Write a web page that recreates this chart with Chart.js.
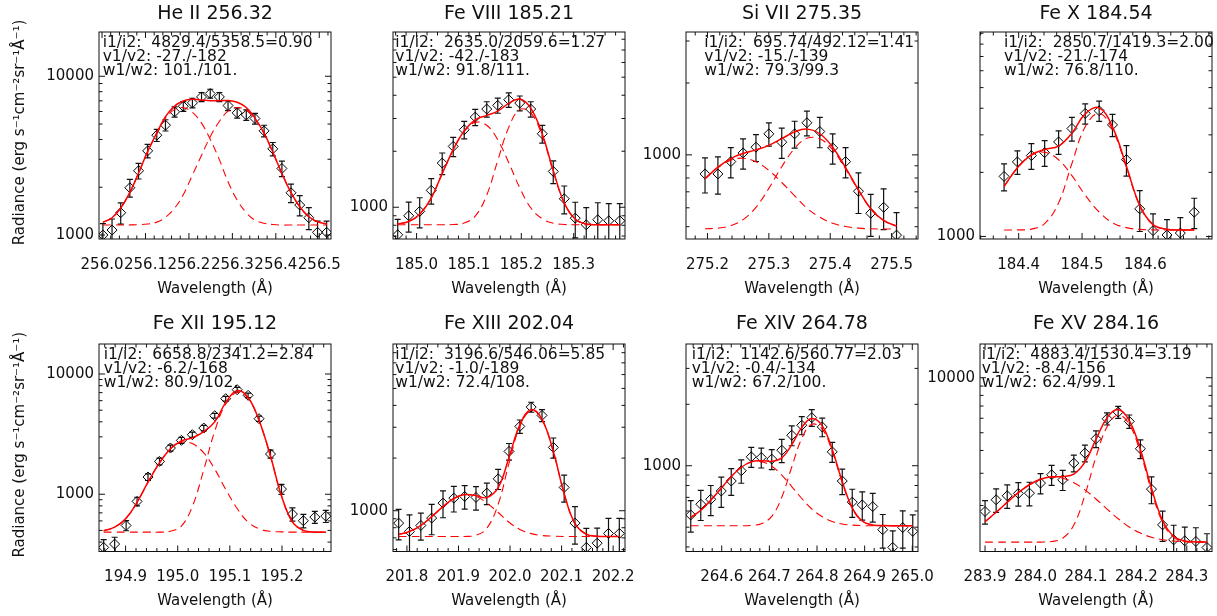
<!DOCTYPE html>
<html>
<head>
<meta charset="utf-8">
<script src="https://cdn.jsdelivr.net/npm/chart.js@4.4.0/dist/chart.umd.min.js"></script>
<style>
  html, body { margin: 0; padding: 0; background: #fff; overflow: hidden; }
  body { position: relative; width: 1217px; height: 616px; }
  canvas { position: absolute; }
</style>
</head>
<body>
<script>
// ---- He II 256.32 ----
const heII_wave = [256.002, 256.023, 256.043, 256.064, 256.084, 256.105, 256.126, 256.146, 256.167, 256.187, 256.208, 256.229, 256.249, 256.270, 256.290, 256.311, 256.332, 256.352, 256.373, 256.393, 256.414, 256.435, 256.455, 256.476, 256.496, 256.517];
const heII_flux = [1000, 1075, 1382, 1985, 2540, 3390, 4255, 4920, 5970, 6470, 6800, 7410, 7780, 7410, 6540, 5880, 5710, 5420, 4530, 3490, 2625, 1845, 1545, 1285, 1040, 1040];
const heII_err = [180, 187, 212, 254, 287, 332, 372, 400, 440, 458, 470, 490, 503, 490, 461, 437, 430, 420, 383, 337, 292, 245, 224, 204, 184, 184];
const heII_fit = [1202, 1284, 1479, 1855, 2456, 3363, 4394, 5572, 6485, 6989, 7154, 7089, 7016, 7021, 7037, 6860, 6355, 5454, 4383, 3333, 2440, 1848, 1508, 1303, 1212, 1174];
const heII_blue = [1202, 1284, 1479, 1853, 2451, 3345, 4344, 5436, 6164, 6349, 5924, 5066, 4016, 2986, 2165, 1660, 1384, 1242, 1185, 1165, 1156, 1156, 1156, 1156, 1156, 1156];
const heII_main = [1156, 1156, 1156, 1158, 1161, 1174, 1206, 1292, 1477, 1796, 2386, 3179, 4156, 5191, 6028, 6356, 6127, 5368, 4354, 3324, 2440, 1848, 1508, 1303, 1212, 1174];
const heII_xticks = [256.0, 256.1, 256.2, 256.3, 256.4, 256.5];
const heII_yticks = [1000, 10000];

// ---- Fe VIII 185.21 ----
const feVIII_wave = [184.964, 184.985, 185.006, 185.028, 185.049, 185.070, 185.091, 185.112, 185.134, 185.155, 185.176, 185.197, 185.218, 185.240, 185.261, 185.282, 185.303, 185.324, 185.346, 185.367, 185.388];
const feVIII_flux = [711, 900, 950, 1232, 1728, 2124, 2610, 3053, 3372, 3528, 3784, 3631, 3372, 2484, 1558, 1111, 874, 805, 857, 846, 846];
const feVIII_err = [150, 165, 175, 193, 229, 253, 281, 304, 319, 327, 338, 331, 319, 274, 217, 190, 190, 190, 200, 200, 200];
const feVIII_fit = [812, 838, 918, 1120, 1520, 2042, 2572, 2950, 3116, 3286, 3618, 3815, 3407, 2476, 1573, 1055, 862, 814, 805, 805, 805];
const feVIII_blue = [812, 838, 918, 1120, 1520, 2040, 2555, 2859, 2759, 2308, 1736, 1272, 994, 867, 821, 808, 805, 805, 805, 805, 805];
const feVIII_main = [805, 805, 805, 805, 805, 807, 822, 896, 1162, 1783, 2687, 3348, 3218, 2414, 1557, 1052, 862, 814, 805, 805, 805];
const feVIII_xticks = [185.0, 185.1, 185.2, 185.3];
const feVIII_yticks = [1000];

// ---- Si VII 275.35 ----
const siVII_wave = [275.196, 275.217, 275.238, 275.258, 275.279, 275.300, 275.321, 275.342, 275.362, 275.383, 275.404, 275.425, 275.446, 275.466, 275.487, 275.508];
const siVII_flux = [832, 832, 937, 1019, 1077, 1225, 1130, 1225, 1363, 1253, 1070, 937, 704, 569, 603, 461];
const siVII_err = [140, 148, 136, 148, 139, 138, 164, 158, 163, 182, 155, 136, 136, 114, 117, 112];
const siVII_fit = [794, 888, 965, 1014, 1049, 1096, 1169, 1248, 1282, 1226, 1077, 885, 713, 595, 531, 503];
const siVII_blue = [793, 884, 949, 968, 935, 861, 766, 673, 598, 548, 517, 501, 493, 490, 489, 489];
const siVII_main = [490, 493, 505, 535, 603, 724, 892, 1064, 1173, 1167, 1049, 873, 709, 594, 531, 503];
const siVII_xticks = [275.2, 275.3, 275.4, 275.5];
const siVII_yticks = [1000];

// ---- Fe X 184.54 ----
const feX_wave = [184.377, 184.398, 184.420, 184.441, 184.463, 184.484, 184.505, 184.527, 184.548, 184.570, 184.591, 184.612, 184.634, 184.655, 184.677];
const feX_flux = [1914, 2239, 2397, 2476, 2780, 3213, 3783, 3893, 3342, 2295, 1348, 1065, 1016, 1038, 1300];
const feX_err = [277, 284, 330, 341, 352, 407, 411, 423, 399, 374, 293, 212, 184, 188, 212];
const feX_fit = [1718, 2102, 2418, 2561, 2656, 3057, 3764, 4015, 3269, 2136, 1400, 1137, 1081, 1073, 1073];
const feX_blue = [1718, 2101, 2408, 2486, 2291, 1929, 1563, 1302, 1160, 1100, 1080, 1074, 1073, 1073, 1073];
const feX_main = [1073, 1074, 1083, 1148, 1438, 2201, 3274, 3786, 3182, 2109, 1393, 1136, 1081, 1073, 1073];
const feX_xticks = [184.4, 184.5, 184.6];
const feX_yticks = [1000];

// ---- Fe XII 195.12 ----
const feXII_wave = [194.858, 194.879, 194.901, 194.922, 194.943, 194.965, 194.986, 195.007, 195.028, 195.050, 195.071, 195.092, 195.114, 195.135, 195.156, 195.178, 195.199, 195.220, 195.241, 195.263, 195.284];
const feXII_flux = [361, 385, 550, 872, 1390, 1876, 2423, 2805, 3127, 3552, 4498, 6233, 7406, 6645, 4249, 2160, 1104, 684, 602, 646, 658];
const feXII_err = [58, 54, 53, 72, 89, 120, 139, 161, 160, 181, 201, 279, 331, 297, 217, 166, 106, 87, 77, 74, 76];
const feXII_fit = [497, 532, 632, 857, 1261, 1821, 2392, 2770, 2944, 3321, 3999, 5775, 7281, 6372, 4119, 2069, 970, 588, 500, 484, 484];
const feXII_blue = [497, 532, 632, 857, 1261, 1821, 2384, 2711, 2638, 2204, 1617, 1100, 761, 586, 515, 492, 486, 484, 484, 484, 484];
const feXII_main = [484, 484, 484, 484, 484, 484, 492, 543, 790, 1601, 3350, 5643, 7004, 6270, 4088, 2061, 968, 588, 500, 484, 484];
const feXII_xticks = [194.9, 195.0, 195.1, 195.2];
const feXII_yticks = [1000, 10000];

// ---- Fe XIII 202.04 ----
const feXIII_wave = [201.784, 201.805, 201.827, 201.848, 201.870, 201.891, 201.912, 201.934, 201.955, 201.977, 201.998, 202.019, 202.041, 202.062, 202.084, 202.105, 202.126, 202.148, 202.169, 202.191, 202.212];
const feXIII_flux = [850, 762, 824, 908, 1106, 1181, 1207, 1192, 1262, 1523, 2183, 3034, 3912, 3506, 2301, 1359, 850, 617, 653, 742, 742];
const feXIII_err = [168, 184, 145, 179, 194, 197, 185, 183, 177, 200, 239, 266, 257, 277, 303, 238, 205, 176, 143, 163, 163];
const feXIII_fit = [731, 761, 823, 925, 1055, 1175, 1237, 1221, 1189, 1354, 2014, 3096, 3777, 3331, 2182, 1252, 844, 734, 715, 713, 713];
const feXIII_blue = [731, 761, 823, 925, 1055, 1175, 1236, 1210, 1108, 977, 860, 782, 740, 722, 716, 713, 713, 713, 713, 713, 713];
const feXIII_main = [713, 713, 713, 713, 713, 713, 713, 724, 794, 1090, 1867, 3027, 3750, 3322, 2179, 1252, 844, 734, 715, 713, 713];
const feXIII_xticks = [201.8, 201.9, 202.0, 202.1, 202.2];
const feXIII_yticks = [1000];

// ---- Fe XIV 264.78 ----
const feXIV_wave = [264.535, 264.556, 264.577, 264.599, 264.620, 264.641, 264.662, 264.683, 264.705, 264.726, 264.747, 264.768, 264.789, 264.811, 264.832, 264.853, 264.874, 264.895, 264.917, 264.938, 264.959, 264.980, 265.001];
const feXIV_flux = [574, 648, 685, 752, 842, 945, 1106, 1098, 1078, 1192, 1411, 1579, 1721, 1549, 1170, 842, 663, 643, 631, 486, 398, 498, 477];
const feXIV_err = [101, 109, 115, 127, 126, 124, 124, 123, 121, 156, 158, 160, 161, 162, 131, 120, 104, 101, 102, 91, 82, 103, 98];
const feXIV_fit = [557, 605, 678, 776, 885, 983, 1045, 1059, 1051, 1093, 1269, 1542, 1702, 1567, 1200, 837, 622, 536, 513, 509, 508, 508, 508];
const feXIV_blue = [557, 605, 678, 776, 885, 983, 1043, 1047, 994, 900, 791, 691, 614, 563, 533, 518, 512, 509, 508, 508, 508, 508, 508];
const feXIV_main = [508, 508, 508, 508, 508, 508, 510, 520, 565, 701, 986, 1359, 1596, 1512, 1175, 827, 618, 535, 513, 509, 508, 508, 508];
const feXIV_xticks = [264.6, 264.7, 264.8, 264.9, 265.0];
const feXIV_yticks = [1000];

// ---- Fe XV 284.16 ----
const feXV_wave = [283.900, 283.922, 283.944, 283.966, 283.988, 284.010, 284.032, 284.054, 284.076, 284.098, 284.120, 284.142, 284.164, 284.186, 284.208, 284.230, 284.252, 284.274, 284.296, 284.318, 284.340];
const feXV_flux = [1854, 2149, 2259, 2326, 2336, 2651, 2944, 2763, 3410, 3870, 4636, 5964, 6486, 5768, 4087, 2457, 1567, 1297, 1281, 1271, 1178];
const feXV_err = [273, 316, 332, 342, 344, 334, 371, 348, 358, 407, 487, 451, 491, 485, 481, 413, 296, 262, 242, 240, 223];
const feXV_fit = [1632, 1835, 2082, 2350, 2596, 2780, 2868, 2882, 2969, 3453, 4597, 6044, 6690, 5826, 4048, 2486, 1656, 1357, 1279, 1264, 1261];
const feXV_blue = [1632, 1835, 2082, 2350, 2596, 2779, 2858, 2818, 2666, 2435, 2169, 1912, 1693, 1526, 1412, 1340, 1299, 1278, 1267, 1263, 1261];
const feXV_main = [1260, 1260, 1260, 1260, 1260, 1261, 1270, 1324, 1563, 2278, 3688, 5392, 6257, 5560, 3896, 2406, 1617, 1339, 1272, 1261, 1260];
const feXV_xticks = [283.9, 284.0, 284.1, 284.2, 284.3];
const feXV_yticks = [10000];

const panels = [
  { title: 'He II 256.32', left: 99, top: 32, bottom: 239, xr: [255.993, 256.527], yr: [944, 19000],
    wave: heII_wave, flux: heII_flux, err: heII_err, fit: heII_fit, blue: heII_blue, main: heII_main,
    xticks: heII_xticks, yticks: heII_yticks, noteDx: 3.7, yTitle: true,
    notes: ['i1/i2:  4829.4/5358.5=0.90', 'v1/v2: -27./-182', 'w1/w2: 101./101.'] },
  { title: 'Fe VIII 185.21', left: 393, top: 32, bottom: 239, xr: [184.955, 185.398], yr: [675, 8750],
    wave: feVIII_wave, flux: feVIII_flux, err: feVIII_err, fit: feVIII_fit, blue: feVIII_blue, main: feVIII_main,
    xticks: feVIII_xticks, yticks: feVIII_yticks, noteDx: 2.3,
    notes: ['i1/i2:  2635.0/2059.6=1.27', 'v1/v2: -42./-183', 'w1/w2: 91.8/111.'] },
  { title: 'Si VII 275.35', left: 686, top: 32, bottom: 239, xr: [275.165, 275.543], yr: [444, 3273],
    wave: siVII_wave, flux: siVII_flux, err: siVII_err, fit: siVII_fit, blue: siVII_blue, main: siVII_main,
    xticks: siVII_xticks, yticks: siVII_yticks, noteDx: 18.3,
    notes: ['i1/i2:  695.74/492.12=1.41', 'v1/v2: -15./-139', 'w1/w2: 79.3/99.3'] },
  { title: 'Fe X 184.54', left: 980, top: 32, bottom: 239, xr: [184.339, 184.705], yr: [973, 9120],
    wave: feX_wave, flux: feX_flux, err: feX_err, fit: feX_fit, blue: feX_blue, main: feX_main,
    xticks: feX_xticks, yticks: feX_yticks, noteDx: 24,
    notes: ['i1/i2:  2850.7/1419.3=2.00', 'v1/v2: -21./-174', 'w1/w2: 76.8/110.'] },
  { title: 'Fe XII 195.12', left: 99, top: 344, bottom: 551.5, xr: [194.849, 195.294], yr: [334, 17760],
    wave: feXII_wave, flux: feXII_flux, err: feXII_err, fit: feXII_fit, blue: feXII_blue, main: feXII_main,
    xticks: feXII_xticks, yticks: feXII_yticks, noteDx: 4.7, yTitle: true,
    notes: ['i1/i2:  6658.8/2341.2=2.84', 'v1/v2: -6.2/-168', 'w1/w2: 80.9/102.'] },
  { title: 'Fe XIII 202.04', left: 393, top: 344, bottom: 551.5, xr: [201.773, 202.223], yr: [585, 8970],
    wave: feXIII_wave, flux: feXIII_flux, err: feXIII_err, fit: feXIII_fit, blue: feXIII_blue, main: feXIII_main,
    xticks: feXIII_xticks, yticks: feXIII_yticks, noteDx: 2.3,
    notes: ['i1/i2:  3196.6/546.06=5.85', 'v1/v2: -1.0/-189', 'w1/w2: 72.4/108.'] },
  { title: 'Fe XIV 264.78', left: 686, top: 344, bottom: 551.5, xr: [264.525, 265.012], yr: [380, 3950],
    wave: feXIV_wave, flux: feXIV_flux, err: feXIV_err, fit: feXIV_fit, blue: feXIV_blue, main: feXIV_main,
    xticks: feXIV_xticks, yticks: feXIV_yticks, noteDx: 5.7,
    notes: ['i1/i2:  1142.6/560.77=2.03', 'v1/v2: -0.4/-134', 'w1/w2: 67.2/100.'] },
  { title: 'Fe XV 284.16', left: 980, top: 344, bottom: 551.5, xr: [283.890, 284.350], yr: [1120, 15290],
    wave: feXV_wave, flux: feXV_flux, err: feXV_err, fit: feXV_fit, blue: feXV_blue, main: feXV_main,
    xticks: feXV_xticks, yticks: feXV_yticks, noteDx: 1.7,
    notes: ['i1/i2:  4883.4/1530.4=3.19', 'v1/v2: -8.4/-156', 'w1/w2: 62.4/99.1'] }
];

const BOX_W = 232;
const YAXIS_W = 95;
const XAXIS_H = 60;
const PAD_TOP = 32;
const PAD_RIGHT = 25;
const ink = '#111';
const FONT = '"DejaVu Sans", sans-serif';

Chart.defaults.font.family = FONT;
Chart.defaults.color = ink;

function pts(wave, vals) {
  return wave.map((w, i) => ({ x: w, y: vals[i] }));
}

// IDL-like frame: inward ticks on all four sides, error bars, labels
function idlPanel(p) {
  return {
    id: 'idlPanel',
    beforeDatasetsDraw(chart) {
      const { ctx, chartArea: a, scales: { x, y } } = chart;
      ctx.save();
      ctx.beginPath();
      ctx.rect(a.left, a.top, a.right - a.left, a.bottom - a.top);
      ctx.clip();
      ctx.strokeStyle = ink;
      ctx.lineWidth = 1.2;
      ctx.beginPath();
      p.wave.forEach((w, i) => {
        const px = x.getPixelForValue(w);
        const hi = y.getPixelForValue(p.flux[i] + p.err[i]);
        const lo = y.getPixelForValue(Math.max(p.flux[i] - p.err[i], 1));
        ctx.moveTo(px, hi); ctx.lineTo(px, lo);
        ctx.moveTo(px - 3, hi); ctx.lineTo(px + 3, hi);
        ctx.moveTo(px - 3, lo); ctx.lineTo(px + 3, lo);
      });
      ctx.stroke();
      ctx.restore();
    },
    afterDraw(chart) {
      const { ctx, chartArea: a, scales: { x, y } } = chart;
      ctx.save();
      ctx.strokeStyle = ink;
      ctx.lineWidth = 1;
      ctx.strokeRect(a.left, a.top, a.right - a.left, a.bottom - a.top);

      ctx.beginPath();
      for (let k = Math.ceil(x.min / 0.02 - 1e-6); k * 0.02 <= x.max + 1e-9; k++) {
        const v = k * 0.02;
        const major = p.xticks.some(t => Math.abs(t - v) < 1e-6);
        const len = major ? 6 : 3.5;
        const px = x.getPixelForValue(v);
        ctx.moveTo(px, a.bottom); ctx.lineTo(px, a.bottom - len);
        ctx.moveTo(px, a.top); ctx.lineTo(px, a.top + len);
      }
      const n0 = Math.floor(Math.log10(y.min)), n1 = Math.ceil(Math.log10(y.max));
      for (let n = n0; n <= n1; n++) {
        for (let k = 1; k <= 9; k++) {
          const v = k * Math.pow(10, n);
          if (v < y.min || v > y.max) continue;
          const py = y.getPixelForValue(v);
          const len = k === 1 ? 6 : 3.5;
          ctx.moveTo(a.left, py); ctx.lineTo(a.left + len, py);
          ctx.moveTo(a.right, py); ctx.lineTo(a.right - len, py);
        }
      }
      ctx.stroke();

      const cx = (a.left + a.right) / 2;
      ctx.fillStyle = ink;
      ctx.textBaseline = 'middle';
      ctx.textAlign = 'center';
      ctx.font = '19px ' + FONT;
      ctx.fillText(p.title, cx, a.top - (p.top > 100 ? 20 : 18));
      ctx.font = '15px ' + FONT;
      ctx.fillText('Wavelength (Å)', cx, a.bottom + 50);

      ctx.textAlign = 'left';
      ctx.font = '15.5px ' + FONT;
      p.notes.forEach((s, i) => ctx.fillText(s, a.left + p.noteDx, a.top + 11 + 14 * i));

      if (p.yTitle) {
        ctx.translate(a.left - 79, (a.top + a.bottom) / 2 - 3);
        ctx.rotate(-Math.PI / 2);
        ctx.textAlign = 'center';
        ctx.font = '15px ' + FONT;
        ctx.fillText('Radiance (erg s⁻¹cm⁻²sr⁻¹Å⁻¹)', 0, 0);
      }
      ctx.restore();
    }
  };
}

panels.forEach(p => {
  const boxH = p.bottom - p.top;
  const width = YAXIS_W + BOX_W + PAD_RIGHT;
  const height = Math.ceil(PAD_TOP + boxH + XAXIS_H + 10);
  const canvas = document.createElement('canvas');
  canvas.width = width;
  canvas.height = height;
  canvas.style.width = width + 'px';
  canvas.style.height = height + 'px';
  canvas.style.left = (p.left - YAXIS_W) + 'px';
  canvas.style.top = (p.top - PAD_TOP) + 'px';
  document.body.appendChild(canvas);

  new Chart(canvas, {
    type: 'line',
    data: {
      datasets: [
        { data: pts(p.wave, p.flux), showLine: false, pointStyle: 'rectRot', pointRadius: 5,
          pointBorderColor: '#000', pointBorderWidth: 1, pointBackgroundColor: 'rgba(0,0,0,0)', order: 4 },
        { data: pts(p.wave, p.blue), borderColor: '#ff0000', borderWidth: 1.1, borderDash: [8, 5],
          pointRadius: 0, tension: 0.4, order: 3 },
        { data: pts(p.wave, p.main), borderColor: '#ff0000', borderWidth: 1.1, borderDash: [8, 5],
          pointRadius: 0, tension: 0.4, order: 2 },
        { data: pts(p.wave, p.fit), borderColor: '#ff0000', borderWidth: 1.5,
          pointRadius: 0, tension: 0.4, order: 1 }
      ]
    },
    options: {
      responsive: false,
      animation: false,
      devicePixelRatio: 1,
      layout: { padding: { left: 0, top: PAD_TOP, right: PAD_RIGHT, bottom: height - PAD_TOP - boxH - XAXIS_H } },
      plugins: { legend: { display: false }, tooltip: { enabled: false }, title: { display: false } },
      scales: {
        x: {
          type: 'linear', min: p.xr[0], max: p.xr[1],
          grid: { display: false, drawTicks: false }, border: { display: false },
          afterBuildTicks: s => { s.ticks = p.xticks.map(v => ({ value: v })); },
          afterFit: s => { s.height = XAXIS_H; s.paddingLeft = 0; s.paddingRight = 0; },
          ticks: { callback: v => Number(v).toFixed(1), font: { size: 15 }, color: ink,
                   padding: 17, autoSkip: false, maxRotation: 0, minRotation: 0 }
        },
        y: {
          type: 'logarithmic', min: p.yr[0], max: p.yr[1],
          grid: { display: false, drawTicks: false }, border: { display: false },
          afterBuildTicks: s => { s.ticks = p.yticks.map(v => ({ value: v })); },
          afterFit: s => { s.width = YAXIS_W; s.paddingTop = 0; s.paddingBottom = 0; },
          ticks: { callback: v => String(v), font: { size: 15 }, color: ink, padding: 5, autoSkip: false }
        }
      }
    },
    plugins: [idlPanel(p)]
  });
});
</script>
</body>
</html>
